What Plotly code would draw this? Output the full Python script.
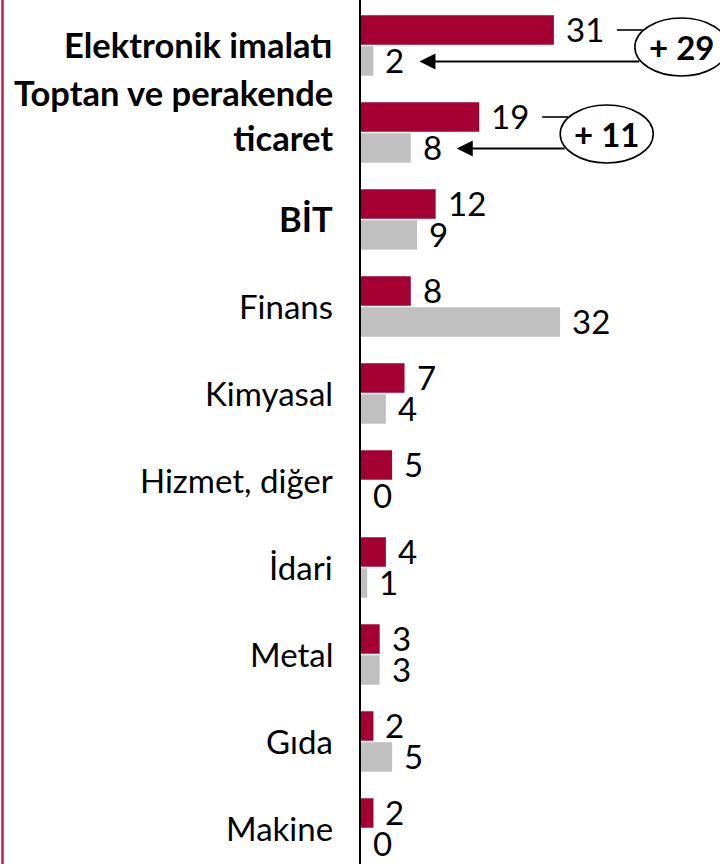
import plotly.graph_objects as go

# ---- data ----
categories = ["Elektronik imalatı", "Toptan ve perakende ticaret", "BİT", "Finans",
              "Kimyasal", "Hizmet, diğer", "İdari", "Metal", "Gıda", "Makine"]
tick_labels = ["Elektronik imalatı", "Toptan ve perakende<br>ticaret", "BİT",
               "Finans", "Kimyasal", "Hizmet, diğer", "İdari", "Metal", "Gıda", "Makine"]
bold_rows = [0, 1, 2]
series_red = [31, 19, 12, 8, 7, 5, 4, 3, 2, 2]
series_grey = [2, 8, 9, 32, 4, 0, 1, 3, 5, 0]
highlight_rows = [0, 1]

RED = "#A50034"
GREY = "#C0C0C0"
FONT = "Lato"
FS = 33
FS_BOLD = 34.5

W_FIG, H_FIG = 720, 864
L = 361
PLOT_W = W_FIG - L
XMAX = 57.7
s = PLOT_W / XMAX  # px per unit

fig = go.Figure()
fig.add_trace(go.Bar(y=categories, x=series_red, orientation="h", marker_color=RED,
                     marker_line_width=0, name="red", hoverinfo="skip"))
fig.add_trace(go.Bar(y=categories, x=series_grey, orientation="h", marker_color=GREY,
                     marker_line_width=0, name="grey", hoverinfo="skip"))

annotations = []
shapes = []

# category labels
for i, lab in enumerate(tick_labels):
    bold = i in bold_rows
    multi = "<br>" in lab
    annotations.append(dict(x=0, y=i, xref="paper", yref="y",
                            text=("<b>%s</b>" % lab) if bold else lab,
                            showarrow=False, xanchor="right", yanchor="middle", align="right",
                            xshift=-26, yshift=(16.5 if multi else 0) + 1,
                            font=dict(family=FONT, size=FS_BOLD if bold else FS, color="black")))

# value labels
for i, (r, g) in enumerate(zip(series_red, series_grey)):
    annotations.append(dict(x=r, y=i, xref="x", yref="y", text=str(r), showarrow=False,
                            xanchor="left", yanchor="middle", xshift=10, yshift=17,
                            font=dict(family=FONT, size=FS, color="black")))
    annotations.append(dict(x=g, y=i, xref="x", yref="y", text=str(g), showarrow=False,
                            xanchor="left", yanchor="middle", xshift=10, yshift=-14.5,
                            font=dict(family=FONT, size=FS, color="black")))

EL_X0, EL_W = 81, 93
for i in highlight_rows:
    r, g = series_red[i], series_grey[i]
    d = r - g
    # ellipse
    shapes.append(dict(type="circle", xref="x", yref="y", xsizemode="pixel", ysizemode="pixel",
                       xanchor=r, yanchor=i, x0=EL_X0, x1=EL_X0 + EL_W, y0=-1.5 - 29, y1=-1.5 + 29,
                       line=dict(color="black", width=1.6), fillcolor="white", layer="above"))
    # connector from red label
    shapes.append(dict(type="line", xref="x", yref="y", xsizemode="pixel", ysizemode="pixel",
                       xanchor=r, yanchor=i, x0=63, x1=EL_X0 + 8, y0=15.5, y1=15.5,
                       line=dict(color="black", width=1.6)))
    # arrow to grey label
    annotations.append(dict(x=g, y=i, xref="x", yref="y", text="", showarrow=True,
                            xshift=46, yshift=-16, ax=(r - g) * s + EL_X0 + 6 - 46, ay=0,
                            axref="pixel", ayref="pixel",
                            arrowhead=2, arrowsize=1.6, arrowwidth=2, arrowcolor="black",
                            standoff=0, startstandoff=0))
    annotations.append(dict(x=r, y=i, xref="x", yref="y", text="<b>+ %d</b>" % d, showarrow=False,
                            xanchor="center", yanchor="middle", xshift=EL_X0 + EL_W / 2, yshift=-1.5,
                            font=dict(family=FONT, size=FS, color="black")))

# left red rule
shapes.append(dict(type="line", xref="paper", yref="paper", x0=(2.5 - L) / PLOT_W, x1=(2.5 - L) / PLOT_W,
                   y0=0, y1=1, line=dict(color="#C8194D", width=2.5)))

fig.update_layout(
    width=W_FIG, height=H_FIG,
    margin=dict(l=L, r=0, t=0, b=0),
    paper_bgcolor="white", plot_bgcolor="white",
    barmode="group", bargap=0.287, bargroupgap=0.05,
    showlegend=False, hovermode=False,
    annotations=annotations, shapes=shapes,
    font=dict(family=FONT, size=FS, color="black"),
)
fig.update_xaxes(range=[0, XMAX], showgrid=False, zeroline=False, showticklabels=False,
                 showline=False, fixedrange=True)
fig.update_yaxes(type="category", range=[9.408, -0.523], autorange=False,
                 showticklabels=False, ticks="", fixedrange=True,
                 showgrid=False, zeroline=False, showline=True, linecolor="black", linewidth=2.5,
                 automargin=False)

fig.write_html("out.html", config={"displayModeBar": False, "staticPlot": True},
               post_script="document.body.style.margin='0px';")
